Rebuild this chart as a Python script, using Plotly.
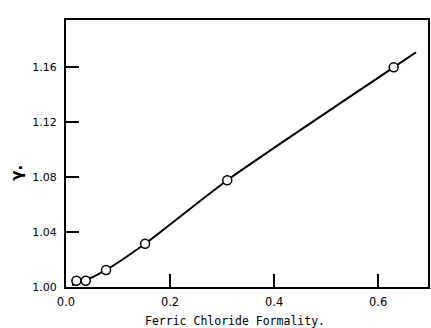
import plotly.graph_objects as go

# measured points
formality = [0.020, 0.038, 0.077, 0.152, 0.310, 0.630]
gamma = [1.0045, 1.0045, 1.0124, 1.0315, 1.0778, 1.1600]

# smooth curve drawn through the points (extends past the last point)
curve_x = [0.012, 0.020, 0.038, 0.077, 0.152, 0.310, 0.630, 0.673]
curve_y = [1.0010, 1.0035, 1.0050, 1.0124, 1.0315, 1.0778, 1.1600, 1.1710]

x_ticks = [0.0, 0.2, 0.4, 0.6]
x_tick_labels = ["0.0", "0.2", "0.4", "0.6"]
y_ticks = [1.00, 1.04, 1.08, 1.12, 1.16]
y_tick_labels = ["1.00", "1.04", "1.08", "1.12", "1.16"]

fig = go.Figure()
fig.add_trace(go.Scatter(x=curve_x, y=curve_y, mode="lines",
                         line=dict(color="black", width=2, shape="spline", smoothing=0.6),
                         hoverinfo="skip", showlegend=False))
fig.add_trace(go.Scatter(x=formality, y=gamma, mode="markers",
                         marker=dict(symbol="circle", size=9, color="white",
                                     line=dict(color="black", width=1.5)),
                         showlegend=False))

font_family = "DejaVu Sans"
fig.update_layout(
    width=431, height=328,
    margin=dict(l=66, r=1, t=20, b=41),
    paper_bgcolor="white", plot_bgcolor="white",
    font=dict(family=font_family, color="black", size=11),
)
fig.update_xaxes(
    range=[0, 0.696], tickvals=x_ticks, ticktext=x_tick_labels,
    ticks="inside", ticklen=13, tickwidth=2, tickcolor="black",
    showline=True, linecolor="black", linewidth=2, mirror=True,
    showgrid=False, zeroline=False,
    tickfont=dict(size=11.5), ticklabelstandoff=3,
)
fig.update_yaxes(
    range=[1.0, 1.1945], tickvals=y_ticks, ticktext=y_tick_labels,
    ticks="inside", ticklen=13, tickwidth=2, tickcolor="black",
    showline=True, linecolor="black", linewidth=2, mirror=True,
    showgrid=False, zeroline=False,
    tickfont=dict(size=11), ticklabelstandoff=5,
)
fig.add_annotation(text="Ferric Chloride Formality.", xref="paper", yref="paper",
                   x=0.467, y=-0.127, xanchor="center", yanchor="middle",
                   showarrow=False, font=dict(family="DejaVu Sans Mono", size=11.5))
fig.add_annotation(text="<b>γ.</b>", xref="paper", yref="paper",
                   x=-0.134, y=0.43, xanchor="center", yanchor="middle",
                   textangle=-90, showarrow=False, font=dict(size=15))

fig.write_html("out.html")
